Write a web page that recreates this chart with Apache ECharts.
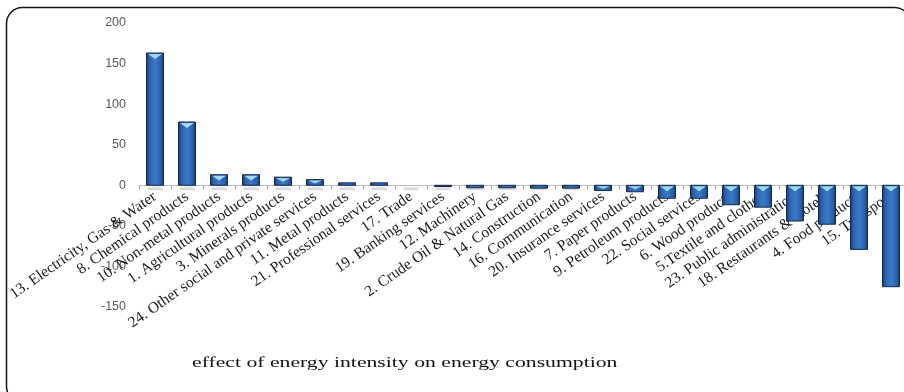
<!DOCTYPE html>
<html>
<head>
<meta charset="utf-8">
<script src="https://cdn.jsdelivr.net/npm/echarts@6/dist/echarts.min.js"></script>
<style>
  html, body { margin: 0; padding: 0; background: #ffffff; }
  #chart { width: 904px; height: 392px; }
</style>
</head>
<body>
<div id="chart"></div>
<script>
// Sectors, in the order they are plotted
const categories = [
  "13. Electricity, Gas & Water",
  "8. Chemical products",
  "10. Non-metal products",
  "1. Agricultural products",
  "3. Minerals products",
  "24. Other social and private services",
  "11. Metal products",
  "21. Professional services",
  "17. Trade",
  "19. Banking services",
  "12. Machinery",
  "2. Crude Oil & Natural Gas",
  "14. Construction",
  "16. Communication",
  "20. Insurance services",
  "7. Paper products",
  "9. Petroleum products",
  "22. Social services",
  "6. Wood products",
  "5.Textile and clothes",
  "23. Public administration",
  "18. Restaurants & Hotels",
  "4. Food products",
  "15. Transport"
];

// Effect of energy intensity on energy consumption, per sector
const values = [
  163, 78, 13, 13, 10, 7, 3, 3, 0.3, -1.5, -3, -3,
  -3.5, -3.5, -6.5, -8, -16, -16, -24, -27, -44, -48, -79, -125
];

// Value axis range and tick step
const yMin = -150;
const yMax = 200;
const yStep = 50;

const chartTitle = "effect of energy intensity on energy consumption";

// Plot area
const gridRect = { left: 139, top: 23, width: 768, height: 284 };
// lift the category axis (line, ticks and labels) up to the zero level
const zeroOffset = -gridRect.height * (0 - yMin) / (yMax - yMin);

const chart = echarts.init(document.getElementById('chart'));

const barFill = new echarts.graphic.LinearGradient(0, 0, 1, 0, [
  { offset: 0, color: '#183660' },
  { offset: 0.18, color: '#2A61A6' },
  { offset: 0.5, color: '#3A7BCB' },
  { offset: 0.82, color: '#2A61A6' },
  { offset: 1, color: '#183660' }
]);

// Bevelled column: gradient body, dark outline, light chevron on the top face
function renderColumn(params, api) {
  const idx = api.value(0);
  const v = api.value(1);
  const base = api.coord([idx, 0]);
  const end = api.coord([idx, v]);
  const bw = api.size([1, 0])[0] * 0.53;
  const x = base[0] - bw / 2;
  const yTop = Math.min(base[1], end[1]);
  const h = Math.abs(end[1] - base[1]);
  const children = [];

  // soft grey reflection just below the axis line
  children.push({
    type: 'rect',
    shape: { x: x + 1, y: base[1] + 2, width: bw - 2, height: 3 },
    style: { fill: 'rgba(175,175,175,0.45)' },
    z2: 0
  });

  if (h >= 0.5) {
    children.push({
      type: 'rect',
      shape: { x: x, y: yTop, width: bw, height: Math.max(h, 1.2) },
      style: { fill: barFill, stroke: '#132846', lineWidth: 1 },
      z2: 2
    });
  }
  if (h > 4) {
    const th = Math.min(5, h * 0.45);
    children.push({
      type: 'polygon',
      shape: {
        points: [
          [x + 1.5, yTop + 1],
          [x + bw - 1.5, yTop + 1],
          [x + bw / 2, yTop + 1 + th]
        ]
      },
      style: { fill: '#A2D6F6' },
      z2: 3
    });
  }
  return { type: 'group', children: children };
}

const hiddenAxisParts = {
  axisLine: { show: false },
  axisTick: { show: false },
  axisLabel: { show: false },
  splitLine: { show: false }
};

const option = {
  animation: false,
  backgroundColor: '#ffffff',
  // grid 0 holds the columns and the category axis,
  // grid 1 (same rectangle) carries the value labels on the left
  grid: [
    Object.assign({ containLabel: false, outerBoundsMode: 'none' }, gridRect),
    Object.assign({ containLabel: false, outerBoundsMode: 'none' }, gridRect)
  ],
  xAxis: [
    {
      type: 'category',
      gridIndex: 0,
      data: categories,
      position: 'bottom',
      offset: zeroOffset,
      axisLine: { onZero: false, lineStyle: { color: '#BDBDBD', width: 1 } },
      axisTick: { show: true, alignWithLabel: false, length: 4, lineStyle: { color: '#A8A8A8' } },
      axisLabel: {
        interval: 0,
        rotate: 35,
        margin: 10,
        hideOverlap: false,
        fontFamily: 'Liberation Serif',
        fontSize: 15.5,
        color: '#1b1b1b'
      },
      splitLine: { show: false }
    },
    Object.assign({ type: 'category', gridIndex: 1, data: categories }, hiddenAxisParts)
  ],
  yAxis: [
    Object.assign({ type: 'value', gridIndex: 0, min: yMin, max: yMax, interval: yStep }, hiddenAxisParts),
    {
      type: 'value',
      gridIndex: 1,
      min: yMin,
      max: yMax,
      interval: yStep,
      axisLine: { show: false },
      axisTick: { show: false },
      splitLine: { show: false },
      axisLabel: {
        margin: 13,
        hideOverlap: false,
        fontFamily: 'Liberation Sans',
        fontSize: 12.5,
        color: '#595959'
      }
    }
  ],
  series: [{
    type: 'custom',
    xAxisIndex: 0,
    yAxisIndex: 0,
    renderItem: renderColumn,
    data: values.map((v, i) => [i, v]),
    encode: { x: 0, y: 1 },
    clip: false,
    z: 3
  }],
  graphic: [
    {
      type: 'rect',
      shape: { x: 6.5, y: 7.5, width: 904, height: 395, r: 16 },
      style: { fill: 'none', stroke: '#111111', lineWidth: 1.5 },
      silent: true,
      z: 0
    },
    {
      type: 'text',
      x: 192,
      y: 363,
      scaleX: 1.40,
      style: {
        text: chartTitle,
        fontFamily: 'Liberation Serif',
        fontSize: 15.5,
        fill: '#111111',
        textAlign: 'left',
        textVerticalAlign: 'middle'
      },
      z: 10
    }
  ]
};

chart.setOption(option);
</script>
</body>
</html>
